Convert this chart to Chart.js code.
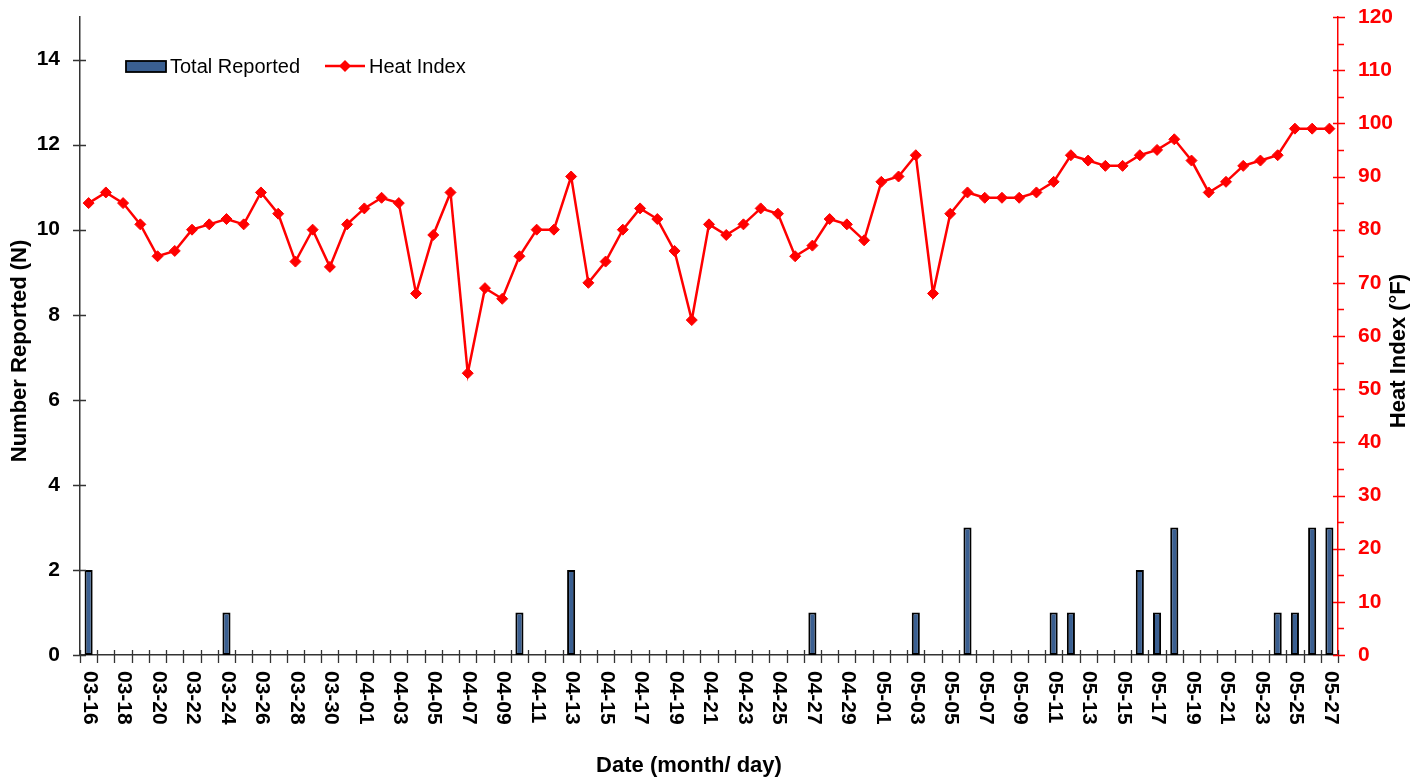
<!DOCTYPE html>
<html><head><meta charset="utf-8">
<script src="https://cdn.jsdelivr.net/npm/chart.js@4.4.0/dist/chart.umd.min.js"></script>
<style>html,body{margin:0;padding:0;background:#fff;overflow:hidden}#wrap{width:1427px;height:780px;position:relative}</style>
</head><body><div id="wrap"><canvas id="c" width="1427" height="780"></canvas></div>
<script>
const dates = ['03-16','03-17','03-18','03-19','03-20','03-21','03-22','03-23','03-24','03-25','03-26','03-27','03-28','03-29','03-30','03-31',
'04-01','04-02','04-03','04-04','04-05','04-06','04-07','04-08','04-09','04-10','04-11','04-12','04-13','04-14','04-15','04-16','04-17','04-18','04-19','04-20','04-21','04-22','04-23','04-24','04-25','04-26','04-27','04-28','04-29','04-30',
'05-01','05-02','05-03','05-04','05-05','05-06','05-07','05-08','05-09','05-10','05-11','05-12','05-13','05-14','05-15','05-16','05-17','05-18','05-19','05-20','05-21','05-22','05-23','05-24','05-25','05-26','05-27'];
const totalReported = [2,0,0,0,0,0,0,0,1,0,0,0,0,0,0,0,
0,0,0,0,0,0,0,0,0,1,0,0,2,0,0,0,0,0,0,0,0,0,0,0,0,0,1,0,0,0,
0,0,1,0,0,3,0,0,0,0,1,1,0,0,0,2,1,3,0,0,0,0,0,1,1,3,3];
const heatIndex = [85,87,85,81,75,76,80,81,82,81,87,83,74,80,73,81,
84,86,85,68,79,87,53,69,67,75,80,80,90,70,74,80,84,82,76,63,81,79,81,84,83,75,77,82,81,78,
89,90,94,68,83,87,86,86,86,87,89,94,93,92,92,94,95,97,93,87,89,92,93,94,99,99,99];
const leftTicks = [0,2,4,6,8,10,12,14];
const rightTicks = [0,10,20,30,40,50,60,70,80,90,100,110,120];
const rightMinorTicks = [5,15,25,35,45,55,65,75,85,95,105,115];
const seriesNames = ['Total Reported','Heat Index'];
const axisTitles = {x:'Date (month/ day)', y:'Number Reported (N)', y1:'Heat Index (°F)'};

const FONT = "'Liberation Sans', Arial, sans-serif";
const BAR_COLOR = '#3A5F91';
const RED = '#FF0000';
const AXIS = '#333333';

const deco = {
  id: 'deco',
  afterDraw(chart) {
    const ctx = chart.ctx, xs = chart.scales.x, yl = chart.scales.y, yr = chart.scales.y1, a = chart.chartArea;
    ctx.save();
    ctx.strokeStyle = AXIS; ctx.lineWidth = 1.3;
    ctx.beginPath();
    for (let i = 0; i <= dates.length; i++) {
      const px = Math.round(xs.getPixelForValue(i - 0.5)) + 0.5;
      ctx.moveTo(px, a.bottom - 5); ctx.lineTo(px, a.bottom + 8);
    }
    ctx.stroke();
    ctx.beginPath();
    leftTicks.forEach(v => { const py = Math.round(yl.getPixelForValue(v)) + 0.5; ctx.moveTo(a.left - 7, py); ctx.lineTo(a.left + 6, py); });
    ctx.stroke();
    ctx.strokeStyle = RED; ctx.lineWidth = 1.5;
    ctx.beginPath();
    rightTicks.forEach(v => { const py = Math.round(yr.getPixelForValue(v)) + 0.5; ctx.moveTo(a.right - 5, py); ctx.lineTo(a.right + 7, py); });
    rightMinorTicks.forEach(v => { const py = Math.round(yr.getPixelForValue(v)) + 0.5; ctx.moveTo(a.right, py); ctx.lineTo(a.right + 6, py); });
    ctx.stroke();
    ctx.fillStyle = '#000';
    ctx.font = 'bold 21px ' + FONT;
    ctx.textAlign = 'left'; ctx.textBaseline = 'middle';
    dates.forEach((d, i) => {
      if (i % 2) return;
      ctx.save();
      ctx.translate(xs.getPixelForValue(i) + 1, a.bottom + 16);
      ctx.rotate(Math.PI / 2);
      ctx.fillText(d, 0, 0);
      ctx.restore();
    });
    ctx.font = 'bold 22px ' + FONT;
    ctx.textAlign = 'center'; ctx.textBaseline = 'middle';
    ctx.fillText(axisTitles.x, 689, 766);
    ctx.save(); ctx.translate(20, 351); ctx.rotate(-Math.PI / 2); ctx.fillText(axisTitles.y, 0, 0); ctx.restore();
    ctx.save(); ctx.translate(1399, 351); ctx.rotate(-Math.PI / 2); ctx.fillText(axisTitles.y1, 0, 0); ctx.restore();
    const lx = a.left + 46, ly = a.top + 49;
    ctx.fillStyle = BAR_COLOR; ctx.fillRect(lx, ly - 5, 40, 11);
    ctx.strokeStyle = '#000'; ctx.lineWidth = 1.8; ctx.strokeRect(lx, ly - 5, 40, 11);
    ctx.fillStyle = '#000'; ctx.font = '20px ' + FONT; ctx.textAlign = 'left'; ctx.textBaseline = 'middle';
    ctx.fillText(seriesNames[0], lx + 44, ly + 1);
    const l2 = lx + 199;
    ctx.strokeStyle = RED; ctx.lineWidth = 2.5;
    ctx.beginPath(); ctx.moveTo(l2, ly); ctx.lineTo(l2 + 40, ly); ctx.stroke();
    ctx.fillStyle = RED; ctx.beginPath();
    ctx.moveTo(l2 + 20, ly - 6); ctx.lineTo(l2 + 26, ly); ctx.lineTo(l2 + 20, ly + 6); ctx.lineTo(l2 + 14, ly); ctx.closePath(); ctx.fill();
    ctx.fillStyle = '#000';
    ctx.fillText(seriesNames[1], l2 + 44, ly + 1);
    ctx.restore();
  }
};

new Chart(document.getElementById('c'), {
  data: {
    labels: dates,
    datasets: [
      { type: 'line', label: seriesNames[1], data: heatIndex, yAxisID: 'y1', order: 0,
        borderColor: RED, backgroundColor: RED, borderWidth: 2.5, tension: 0,
        pointStyle: 'rectRot', pointRadius: 5.5, pointBorderWidth: 1, pointBackgroundColor: RED, pointBorderColor: RED },
      { type: 'bar', label: seriesNames[0], data: totalReported, yAxisID: 'y', order: 1,
        backgroundColor: BAR_COLOR, borderColor: '#000', borderWidth: c => c.raw ? 2 : 0, borderSkipped: false,
        categoryPercentage: 1, barPercentage: 0.47 }
    ]
  },
  options: {
    responsive: false, animation: false, devicePixelRatio: 1,
    layout: { padding: { top: 17, left: 0, right: 0, bottom: 0 } },
    plugins: { legend: { display: false }, tooltip: { enabled: false } },
    scales: {
      x: { type: 'category', offset: true,
        ticks: { display: false }, grid: { display: false, drawTicks: false },
        border: { color: AXIS, width: 1.5 },
        afterFit(s) { s.height = 125; s.paddingLeft = 0; s.paddingRight = 0; } },
      y: { position: 'left', min: 0, max: 15,
        afterBuildTicks(s) { s.ticks = leftTicks.map(v => ({ value: v })); },
        ticks: { font: { family: FONT, size: 21, weight: 'bold' }, color: '#000', padding: 20 },
        grid: { display: false, drawTicks: false },
        border: { color: AXIS, width: 1.5 },
        afterFit(s) { s.width = 80; s.paddingTop = 0; s.paddingBottom = 0; } },
      y1: { position: 'right', min: 0, max: 120,
        afterBuildTicks(s) { s.ticks = rightTicks.map(v => ({ value: v })); },
        ticks: { font: { family: FONT, size: 21, weight: 'bold' }, color: RED, padding: 20 },
        grid: { display: false, drawTicks: false },
        border: { color: RED, width: 1.5 },
        afterFit(s) { s.width = 89; s.paddingTop = 0; s.paddingBottom = 0; } }
    }
  },
  plugins: [deco]
});
</script></body></html>
